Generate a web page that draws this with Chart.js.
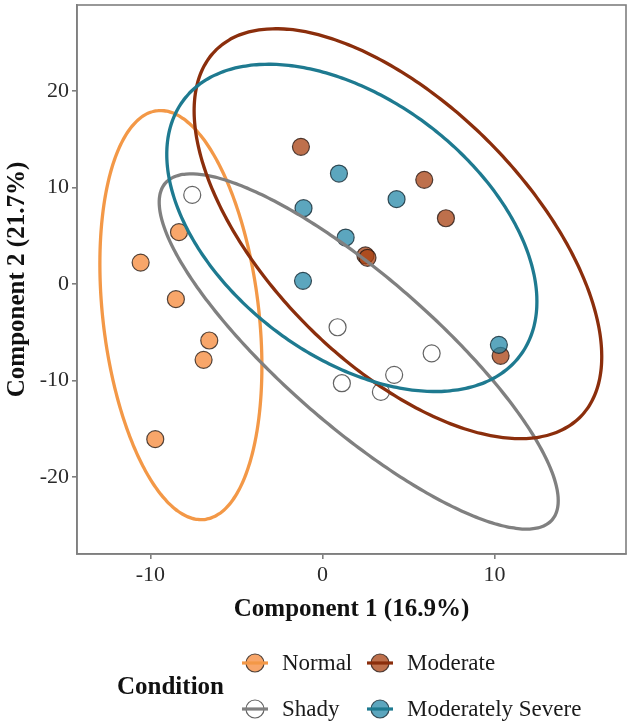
<!DOCTYPE html>
<html>
<head>
<meta charset="utf-8">
<script src="https://cdn.jsdelivr.net/npm/chart.js@4.4.1/dist/chart.umd.min.js"></script>
<style>
  html, body { margin: 0; padding: 0; background: #ffffff; }
  body { width: 633px; height: 728px; position: relative; overflow: hidden; font-family: "Liberation Serif", "DejaVu Serif", serif; }
  #wrap { position: absolute; left: 0; top: 0; width: 633px; height: 625px; }
  #legend { position: absolute; left: 0; top: 0; width: 633px; height: 728px; pointer-events: none; }
  .ltitle { position: absolute; font-weight: bold; font-size: 25px; color: #111; line-height: 1; }
  .litem { position: absolute; font-size: 23px; color: #1a1a1a; line-height: 1; white-space: nowrap; }
  .lsym { position: absolute; }
</style>
</head>
<body>
<div id="wrap"><canvas id="chart"></canvas></div>
<div id="legend"></div>
<script>
// ---- Data ----
const categories = ["Normal", "Shady", "Moderate", "Moderately Severe"];

const normalX = [-10.57, -8.34, -8.52, -6.58, -6.91, -9.72];
const normalY = [2.2, 5.36, -1.59, -5.87, -7.88, -16.1];

const shadyX = [-7.57, 0.88, 6.35, 4.17, 1.13, 3.4];
const shadyY = [9.22, -4.5, -7.2, -9.43, -10.3, -11.2];

const moderateX = [-1.25, 5.92, 7.18, 2.5, 2.62, 10.36];
const moderateY = [14.2, 10.78, 6.8, 2.95, 2.7, -7.46];

const modSevereX = [0.96, 4.31, -1.1, 1.35, -1.13, 10.26];
const modSevereY = [11.43, 8.78, 7.84, 4.8, 0.31, -6.32];

// Ellipse (stat_ellipse) parameters per category: centre, half-extent in x and y, and correlation
const ellipseCx = [-8.23, 2.11, 4.39, 1.71];
const ellipseCy = [-3.24, -7.01, 5.2, 5.80];
const ellipseSx = [4.71, 11.6, 11.85, 10.76];
const ellipseSy = [21.2, 18.41, 21.24, 16.96];
const ellipseRho = [-0.25, -0.84, -0.6, -0.45];

const xTicks = [-10, 0, 10];
const yTicks = [-20, -10, 0, 10, 20];
const xTitle = "Component 1 (16.9%)";
const yTitle = "Component 2 (21.7%)";
const legendTitle = "Condition";

// ---- Styles ----
const pointFill = ["rgba(246,136,56,0.75)", "rgba(255,255,255,0.75)", "rgba(168,64,16,0.75)", "rgba(38,136,168,0.75)"];
const pointEdge = ["rgba(40,30,25,0.8)", "rgba(60,60,60,0.8)", "rgba(40,25,20,0.8)", "rgba(20,40,50,0.8)"];
const lineColor = ["#F39847", "#808080", "#8B2E0C", "#1E7A90"];

const seriesX = [normalX, shadyX, moderateX, modSevereX];
const seriesY = [normalY, shadyY, moderateY, modSevereY];

function ellipsePoints(i) {
  const pts = [];
  const n = 180;
  const s = Math.sqrt(1 - ellipseRho[i] * ellipseRho[i]);
  for (let k = 0; k <= n; k++) {
    const t = 2 * Math.PI * k / n;
    pts.push({
      x: ellipseCx[i] + ellipseSx[i] * Math.cos(t),
      y: ellipseCy[i] + ellipseSy[i] * (ellipseRho[i] * Math.cos(t) - s * Math.sin(t))
    });
  }
  return pts;
}

const datasets = [];
categories.forEach((c, i) => {
  datasets.push({
    label: c,
    type: "scatter",
    data: seriesX[i].map((x, j) => ({ x: x, y: seriesY[i][j] })),
    backgroundColor: pointFill[i],
    borderColor: pointEdge[i],
    borderWidth: 1.2,
    pointRadius: 8.5,
    pointHoverRadius: 8.5,
    order: 5 - i
  });
});
categories.forEach((c, i) => {
  datasets.push({
    label: c + " ellipse",
    type: "line",
    data: ellipsePoints(i),
    borderColor: lineColor[i],
    borderWidth: 3.3,
    borderCapStyle: "round",
    borderJoinStyle: "round",
    pointRadius: 0,
    fill: false,
    tension: 0.2,
    order: 1 - i * 0.1
  });
});

const frame = {
  id: "frame",
  afterDatasetsDraw(chart) {
    const a = chart.chartArea, ctx = chart.ctx;
    ctx.save();
    ctx.strokeStyle = "#7f7f7f";
    ctx.lineWidth = 1.6;
    ctx.strokeRect(a.left, a.top, a.right - a.left, a.bottom - a.top);
    ctx.restore();
  }
};

new Chart(document.getElementById("chart"), {
  type: "scatter",
  data: { datasets: datasets },
  plugins: [frame],
  options: {
    responsive: true,
    maintainAspectRatio: false,
    animation: false,
    layout: { autoPadding: false, padding: { top: 5, right: 7, left: 0, bottom: 0 } },
    plugins: { legend: { display: false }, tooltip: { enabled: false } },
    scales: {
      x: {
        type: "linear",
        min: -14.27, max: 17.65,
        afterBuildTicks(s) { s.ticks = xTicks.map(v => ({ value: v })); },
        afterFit(s) { s.height = 71; s.paddingLeft = 0; s.paddingRight = 0; },
        ticks: { includeBounds: false, color: "#2a2a2a", font: { family: "Liberation Serif", size: 22 }, padding: 3 },
        grid: { drawOnChartArea: false, drawTicks: true, tickLength: 5, color: "#7f7f7f", lineWidth: 1.6 },
        border: { display: true, color: "#7f7f7f", width: 1.6 },
        title: { display: true, text: xTitle, color: "#111", font: { family: "Liberation Serif", size: 25, weight: "bold" }, padding: { top: 0, bottom: 0 } }
      },
      y: {
        type: "linear",
        min: -28, max: 28.9,
        afterBuildTicks(s) { s.ticks = yTicks.map(v => ({ value: v })); },
        afterFit(s) { s.width = 77; s.paddingTop = 0; s.paddingBottom = 0; },
        ticks: { includeBounds: false, color: "#2a2a2a", font: { family: "Liberation Serif", size: 22 }, padding: 3 },
        grid: { drawOnChartArea: false, drawTicks: true, tickLength: 5, color: "#7f7f7f", lineWidth: 1.6 },
        border: { display: true, color: "#7f7f7f", width: 1.6 },
        title: { display: true, text: yTitle, color: "#111", font: { family: "Liberation Serif", size: 25, weight: "bold" }, padding: { top: 3, bottom: 0 } }
      }
    }
  }
});

// ---- Legend (HTML) ----
const legend = document.getElementById("legend");
const lt = document.createElement("div");
lt.className = "ltitle";
lt.textContent = legendTitle;
lt.style.left = "117px";
lt.style.top = (686 - 13) + "px";
legend.appendChild(lt);

const symX = [255, 255, 380, 380];
const rowY = [663, 709, 663, 709];
categories.forEach((c, i) => {
  const ns = "http://www.w3.org/2000/svg";
  const svg = document.createElementNS(ns, "svg");
  svg.setAttribute("width", "30");
  svg.setAttribute("height", "24");
  svg.setAttribute("class", "lsym");
  svg.style.left = (symX[i] - 15) + "px";
  svg.style.top = (rowY[i] - 12) + "px";
  const circ = document.createElementNS(ns, "circle");
  circ.setAttribute("cx", "15"); circ.setAttribute("cy", "12"); circ.setAttribute("r", "9");
  circ.setAttribute("fill", pointFill[i]); circ.setAttribute("stroke", pointEdge[i]); circ.setAttribute("stroke-width", "1.2");
  svg.appendChild(circ);
  const ln = document.createElementNS(ns, "line");
  ln.setAttribute("x1", "2"); ln.setAttribute("x2", "28"); ln.setAttribute("y1", "12"); ln.setAttribute("y2", "12");
  ln.setAttribute("stroke", lineColor[i]); ln.setAttribute("stroke-width", "3.2");
  svg.appendChild(ln);
  legend.appendChild(svg);
  const t = document.createElement("div");
  t.className = "litem";
  t.textContent = c;
  t.style.left = (symX[i] + 27) + "px";
  t.style.top = (rowY[i] - 12) + "px";
  legend.appendChild(t);
});
</script>
</body>
</html>
